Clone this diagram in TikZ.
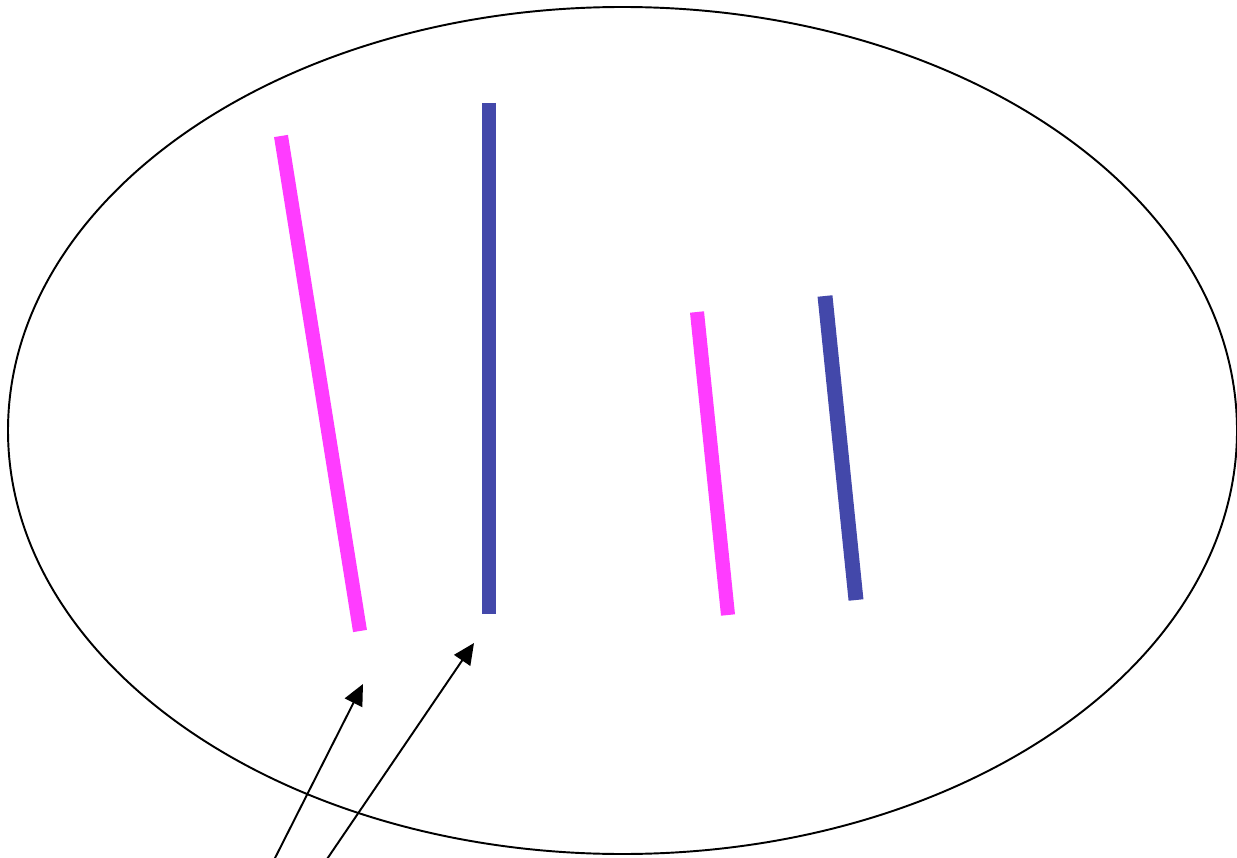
\documentclass[tikz,border=0pt]{standalone}
\usetikzlibrary{arrows.meta}
\definecolor{barpink}{RGB}{255,60,255}
\definecolor{barblue}{RGB}{67,72,170}
\tikzset{
  pinkbar/.style={draw=barpink,line width=8pt,line cap=butt},
  bluebar/.style={draw=barblue,line width=8.5pt,line cap=butt},
  pointer/.style={draw=black,line width=1.1pt,-{Triangle[length=12pt,width=11pt]}},
  outline/.style={draw=black,line width=1.1pt}
}
\begin{document}
\begin{tikzpicture}[x=0.02cm,y=-0.02cm]
\useasboundingbox (0,0) rectangle (1237,858);
\draw[outline] (622.5,430.5) ellipse [x radius=614.5,y radius=423.5];
\coordinate (p1a) at (281,136);
\coordinate (p1b) at (360,631);
\coordinate (b1a) at (489,103);
\coordinate (b1b) at (489,614);
\coordinate (p2a) at (697,312);
\coordinate (p2b) at (728,615);
\coordinate (b2a) at (825,296);
\coordinate (b2b) at (856,600);
\draw[pinkbar] (p1a) -- (p1b);
\draw[bluebar] (b1a) -- (b1b);
\draw[pinkbar] (p2a) -- (p2b);
\draw[bluebar] (b2a) -- (b2b);
\coordinate (s1) at (273,862);
\coordinate (t1) at (363,684);
\coordinate (s2) at (325,862);
\coordinate (t2) at (474,643);
\draw[pointer] (s1) -- (t1);
\draw[pointer] (s2) -- (t2);
\end{tikzpicture}
\end{document}
